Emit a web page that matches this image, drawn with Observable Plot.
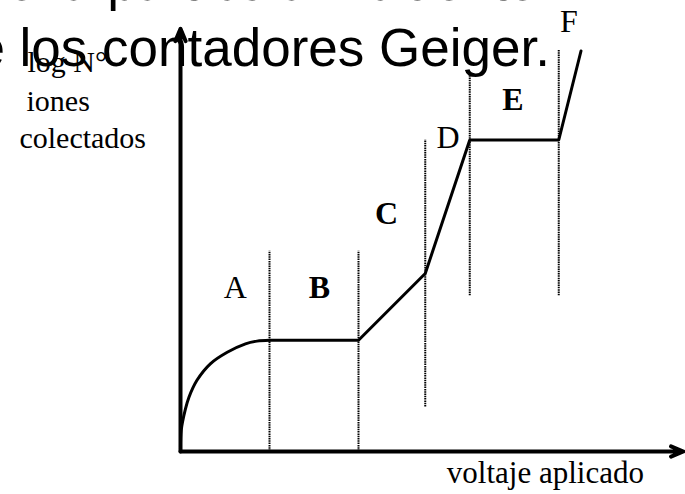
<!DOCTYPE html>
<html>
<head>
<meta charset="utf-8">
<script src="https://cdn.jsdelivr.net/npm/d3@7"></script>
<script src="https://cdn.jsdelivr.net/npm/@observablehq/plot@0.6"></script>
<style>
  html, body { margin: 0; padding: 0; background: #fff; overflow: hidden; }
  #chart svg { display: block; }
</style>
</head>
<body>
<div id="chart"></div>
<script>
// ---- data (abstract units: voltage on x, log N on y) ----
// region A: saturating curve
const curveA = [
  [0, 0], [0.015, 0.47], [0.11, 0.95], [0.19, 1.22], [0.37, 1.6],
  [0.67, 1.97], [1.05, 2.23], [1.46, 2.42], [1.72, 2.48], [2.0, 2.5]
];
// regions B..F: straight segments
const segments = [[2, 2.5], [4, 2.5], [5.5, 4], [6.5, 7], [8.5, 7], [9, 9]];
// dotted region boundaries
const boundaryX   = [2, 4, 5.5, 6.5, 8.5];
const boundaryLow = [0, 0, 1.0, 3.5, 3.5];
const boundaryTop = [4.5, 4.5, 7.0, 8.45, 9.03];
// region labels
const regionNames = ["A", "B", "C", "D", "E", "F"];
const regionX     = [1.23, 3.12, 4.63, 6.01, 7.47, 8.73];
const regionY     = [3.67, 3.67, 5.34, 7.04, 7.9, 9.66];
const regionBold  = [false, true, true, false, true, false];
// axis extents
const axisEnds = [{x1: 0, y1: 0, x2: 0, y2: 9.5}, {x1: 0, y1: 0, x2: 11.3, y2: 0}];
// axis titles
const yTitleLines = ["log N°", "iones", "colectados"];
const yTitleX     = [-3.44, -3.46, -3.62];
const yTitleY     = [8.52, 7.66, 6.83];
const xTitle      = "voltaje aplicado";
const xTitleX     = 8.2;
const xTitleY     = -0.70;
// heading (partly cut off at the top/left of the frame)
const headingLines = ["de la partícula incidente", "de los contadores Geiger."];

// ---- build tables ----
const boundaries = boundaryX.map((x, i) => ({x, y1: boundaryLow[i], y2: boundaryTop[i]}));
const labels = regionNames.map((t, i) => ({t, x: regionX[i], y: regionY[i], bold: regionBold[i]}));
const yTitle = yTitleLines.map((t, i) => ({t, x: yTitleX[i], y: yTitleY[i]}));

const serif = "'Liberation Serif', 'Times New Roman', serif";
const sans = "'Liberation Sans', Arial, sans-serif";

const chart = Plot.plot({
  width: 685,
  height: 494,
  margin: 0,
  style: {background: "#fff", overflow: "hidden"},
  x: {domain: [0, 10], range: [180, 625], axis: null},
  y: {domain: [0, 10], range: [451, 6], axis: null},
  marks: [
    // dotted boundaries
    Plot.ruleX(boundaries, {x: "x", y1: "y1", y2: "y2", stroke: "black", strokeWidth: 2, strokeDasharray: "1.5,0.8"}),
    // axes with arrowheads
    Plot.arrow(axisEnds, {x1: "x1", y1: "y1", x2: "x2", y2: "y2", stroke: "black", strokeWidth: 4, headLength: 5, headAngle: 45}),
    // curve A
    Plot.line(curveA, {x: d => d[0], y: d => d[1], curve: "catmull-rom", stroke: "black", strokeWidth: 3, strokeLinecap: "round"}),
    // segments
    Plot.line(segments, {x: d => d[0], y: d => d[1], stroke: "black", strokeWidth: 3, strokeLinejoin: "miter", strokeLinecap: "round"}),
    // region labels
    Plot.text(labels.filter(d => !d.bold && d.t !== "F"), {x: "x", y: "y", text: "t", fontFamily: serif, fontSize: 32,
      fill: "black", lineAnchor: "middle"}),
    Plot.text(labels.filter(d => d.bold), {x: "x", y: "y", text: "t", fontFamily: serif, fontSize: 32,
      fontWeight: "bold", fill: "black", lineAnchor: "middle"}),
    Plot.text(labels.filter(d => d.t === "F"), {x: "x", y: "y", text: "t", fontFamily: serif, fontSize: 32,
      fill: "black", lineAnchor: "middle"}),
    // y axis title
    Plot.text(yTitle, {x: "x", y: "y", text: "t", fontFamily: serif, fontSize: 30, fill: "black",
      textAnchor: "start", lineAnchor: "bottom"}),
    // x axis title
    Plot.text([xTitle], {x: () => xTitleX, y: () => xTitleY, text: d => d, fontFamily: serif, fontSize: 31, fill: "black",
      textAnchor: "middle", lineAnchor: "bottom"}),
    // heading
    Plot.text([headingLines[0]], {frameAnchor: "top-left", dx: -23, dy: -1, text: d => d, fontFamily: sans, fontSize: 53,
      fill: "black", textAnchor: "start", lineAnchor: "bottom"}),
    Plot.text([headingLines[1]], {frameAnchor: "top-left", dx: -54.6, dy: 65.5, text: d => d, fontFamily: sans, fontSize: 53,
      fill: "black", textAnchor: "start", lineAnchor: "bottom"})
  ]
});
document.getElementById("chart").appendChild(chart);
</script>
</body>
</html>
